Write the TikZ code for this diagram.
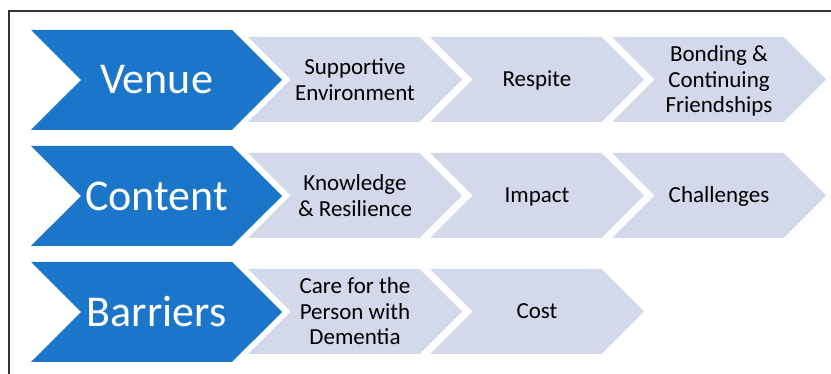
\documentclass[tikz,border=0pt]{standalone}
\usepackage{fontspec}
\setmainfont{Carlito}
\usetikzlibrary{shapes.symbols}
\definecolor{headblue}{RGB}{27,117,201}
\definecolor{itemgray}{RGB}{211,216,235}
\begin{document}
\begin{tikzpicture}[x=1pt,y=-1pt,
  head node/.style={signal,signal to=east,signal from=west,signal pointer angle=90,
    fill=headblue,draw=none,inner sep=0pt,minimum width=251pt,minimum height=100pt,
    text=white,font=\fontsize{44}{48}\selectfont},
  item node/.style={signal,signal to=east,signal from=west,signal pointer angle=90,
    fill=itemgray,draw=none,inner sep=0pt,minimum width=214pt,minimum height=85pt,
    align=center,font=\fontsize{23}{25.5}\selectfont},
  one line/.style={text height=15pt,text depth=0.6pt}]
  \useasboundingbox (0,0) rectangle (831,374);
  \draw[line width=1.5pt,black!80] (9,374) -- (9,11) -- (831,11);
  % first row
  \node[item node] (venue1) at (355,79.5) {Supportive\\Environment};
  \node[item node,one line] (venue2) at (537,79.5) {Respite};
  \node[item node,text depth=0pt] (venue3) at (719,79.5) {Bonding \&\\Continuing\\Friendships};
  \node[head node] (venue) at (156.5,80) {Venue};
  % second row
  \node[item node] (content1) at (355,195.5) {Knowledge\\\& Resilience};
  \node[item node,one line] (content2) at (537,195.5) {Impact};
  \node[item node,one line] (content3) at (719,195.5) {Challenges};
  \node[head node] (content) at (156.5,196) {Content};
  % third row
  \node[item node] (barriers1) at (355,311.5) {Care for the\\Person with\\Dementia};
  \node[item node,one line] (barriers2) at (537,311.5) {Cost};
  \node[head node] (barriers) at (156.5,312) {Barriers};
\end{tikzpicture}
\end{document}
